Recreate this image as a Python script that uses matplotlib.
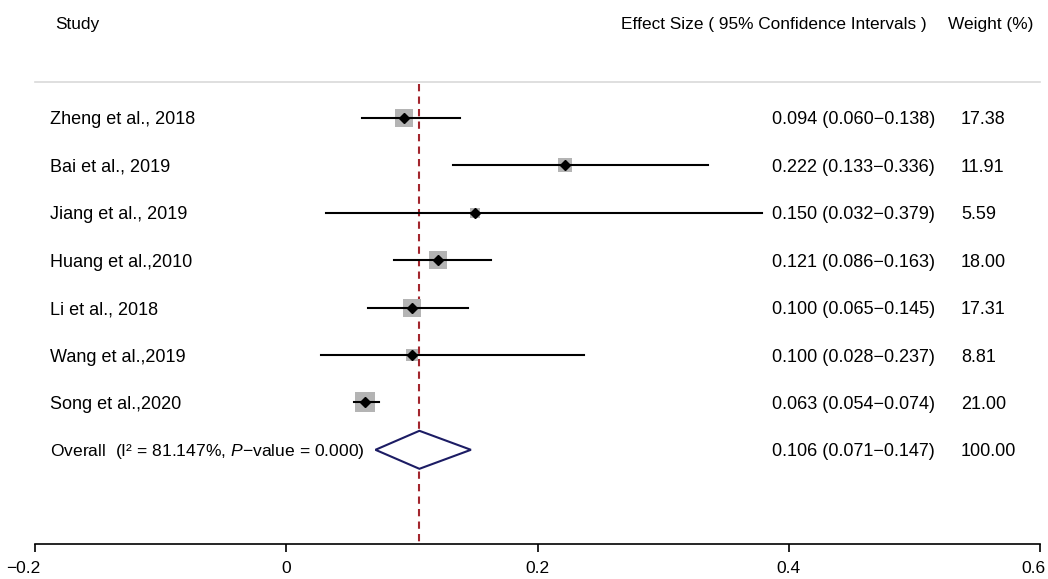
import matplotlib
matplotlib.use('Agg')
import matplotlib.pyplot as plt
from matplotlib.patches import Polygon
from matplotlib.transforms import ScaledTranslation

# DATA #######################################################################

studies = ['Zheng et al., 2018', 'Bai et al., 2019', 'Jiang et al., 2019',
           'Huang et al.,2010', 'Li et al., 2018', 'Wang et al.,2019',
           'Song et al.,2020']
effect = [0.094, 0.222, 0.150, 0.121, 0.100, 0.100, 0.063]
ci_low = [0.060, 0.133, 0.032, 0.086, 0.065, 0.028, 0.054]
ci_high = [0.138, 0.336, 0.379, 0.163, 0.145, 0.237, 0.074]
weights = [17.38, 11.91, 5.59, 18.00, 17.31, 8.81, 21.00]

overall_effect = 0.106
overall_low = 0.071
overall_high = 0.147
overall_weight = 100.00
overall_label = 'Overall  (I\u00b2 = 81.147%, $\\mathit{P}$\u2212value = 0.000)'

xticks = [-0.2, 0, 0.2, 0.4, 0.6]
xtick_labels = ['\u22120.2', '0', '0.2', '0.4', '0.6']

# STYLE ######################################################################

plt.rcParams['font.family'] = 'Liberation Sans'
plt.rcParams['mathtext.fontset'] = 'custom'
plt.rcParams['mathtext.rm'] = 'Liberation Sans'
plt.rcParams['mathtext.it'] = 'Liberation Sans:italic'
FS = 13
FS_HEAD = 12.4

W, H = 1048, 579
fig = plt.figure(figsize=(W / 100, H / 100), dpi=100)
# axes: x from -0.2 (px 35) to 0.6 (px 1040); y in pixel rows, axis line at 544
ax = fig.add_axes([35 / W, (H - 544) / H, 1005 / W, 544 / H])
ax.set_xlim(-0.2, 0.6)
ax.set_ylim(544, 0)

px_per_unit = 1005 / 0.8


def px(x):
    return -0.2 + (x - 35) / px_per_unit


row0, step = 118, 47.4
rows = [row0 + i * step for i in range(len(studies))]
overall_y = row0 + len(studies) * step
dy = 2  # text sits a touch lower than the marks

# headers + separator
ax.text(px(55), 25, 'Study', fontsize=FS_HEAD, va='center', ha='left', clip_on=False)
ax.text(px(621), 25, 'Effect Size ( 95% Confidence Intervals )', fontsize=FS_HEAD,
        va='center', ha='left', clip_on=False)
ax.text(px(948), 25, 'Weight (%)', fontsize=FS_HEAD, va='center', ha='left',
        clip_on=False)
ax.plot([-0.2, 0.6], [82, 82], color='#d9d9d9', lw=1.2, clip_on=False)

# reference line at pooled estimate
ax.plot([overall_effect, overall_effect], [84, 544], color='#a3262e', lw=1.5,
        dashes=(3.5, 2.5), zorder=1)

for y, name, e, lo, hi, w in zip(rows, studies, effect, ci_low, ci_high, weights):
    ax.scatter([e], [y], marker='s', s=w * 9.5, color='#b4b4b4', zorder=2,
               linewidths=0)
    ax.plot([lo, hi], [y, y], color='black', lw=1.5, zorder=3)
    ax.plot([e], [y], marker='D', markersize=5.5, color='black', zorder=4)
    ax.text(px(50), y + dy, name, fontsize=FS, va='center', ha='left')
    ax.text(px(772), y + dy, f'{e:.3f} ({lo:.3f}\u2212{hi:.3f})', fontsize=FS,
            va='center', ha='left')
    ax.text(px(961), y + dy, f'{w:.2f}', fontsize=FS, va='center', ha='left')

# pooled diamond
half = 19
diamond = Polygon([(overall_low, overall_y), (overall_effect, overall_y - half),
                   (overall_high, overall_y), (overall_effect, overall_y + half)],
                  closed=True, facecolor='white', edgecolor='#1c1c64', lw=1.5,
                  zorder=3)
ax.add_patch(diamond)
ax.text(px(50), overall_y + dy, overall_label, fontsize=12.6, va='center', ha='left')
ax.text(px(772), overall_y + dy,
        f'{overall_effect:.3f} ({overall_low:.3f}\u2212{overall_high:.3f})',
        fontsize=FS, va='center', ha='left')
ax.text(px(961), overall_y + dy, f'{overall_weight:.2f}', fontsize=FS,
        va='center', ha='left')

# axis styling (R-like)
for side in ['top', 'left', 'right']:
    ax.spines[side].set_visible(False)
ax.spines['bottom'].set_bounds(-0.2, 0.6)
ax.spines['bottom'].set_linewidth(1.2)
ax.set_xticks(xticks)
ax.set_xticklabels(xtick_labels, fontsize=12.5)
ax.tick_params(axis='x', direction='out', length=6, width=1.2, pad=6)
ax.set_yticks([])
ax.patch.set_alpha(0)

# keep the end labels inside the figure, as R does
tl = ax.get_xticklabels()
tl[0].set_transform(tl[0].get_transform() + ScaledTranslation(-0.12, 0, fig.dpi_scale_trans))
tl[-1].set_transform(tl[-1].get_transform() + ScaledTranslation(-0.07, 0, fig.dpi_scale_trans))

fig.savefig('out.png', dpi=100)
